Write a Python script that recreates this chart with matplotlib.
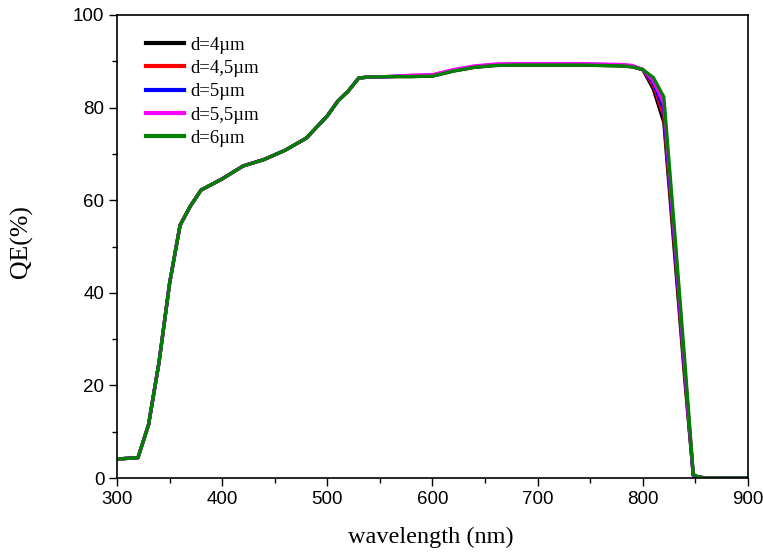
import numpy as np
import matplotlib.pyplot as plt

# wavelength grid (nm)
wl = [300, 320, 330, 340, 350, 360, 370, 380, 400, 420, 440, 460, 480, 500, 510, 520, 530,
      540, 560, 580, 600, 620, 640, 660, 680, 700, 720, 740, 760, 780, 790, 800, 810, 820,
      830, 840, 848, 852, 860, 880, 900]

# common part up to 800 nm
base = [4.1, 4.4, 11.5, 25.0, 42.0, 54.6, 58.8, 62.2, 64.6, 67.4, 68.8, 70.8, 73.4, 78.2,
        81.4, 83.6, 86.4, 86.6, 86.7, 86.7, 86.8, 87.9, 88.7, 89.1, 89.2, 89.2, 89.2, 89.2,
        89.1, 89.0, 88.8, 88.2]

tail_4 = [84.0, 76.8, 49.0, 21.0, 0.5, 0.2, 0.0, 0.0, 0.0]
tail_45 = [84.8, 78.2, 50.5, 22.0, 0.6, 0.2, 0.0, 0.0, 0.0]
tail_5 = [85.3, 79.5, 51.5, 22.8, 0.6, 0.3, 0.0, 0.0, 0.0]
tail_55 = [85.8, 80.8, 52.5, 23.5, 0.7, 0.3, 0.0, 0.0, 0.0]
tail_6 = [86.5, 82.3, 54.0, 25.0, 0.8, 0.3, 0.0, 0.0, 0.0]

labels = ["d=4µm", "d=4,5µm", "d=5µm", "d=5,5µm", "d=6µm"]
tails = [tail_4, tail_45, tail_5, tail_55, tail_6]
colors = ["black", "red", "blue", "magenta", "green"]
offsets = [0.0, 0.1, 0.2, 0.3, 0.0]

fig = plt.figure(figsize=(7.63, 5.55), dpi=100)
ax = fig.add_axes([0.1533, 0.1387, 0.827, 0.8343])

for lab, tail, c, off in zip(labels, tails, colors, offsets):
    y = np.array(base + tail)
    y[19:31] += off  # plateau differs slightly between thicknesses
    ax.plot(wl, y, color=c, lw=2.4, label=lab)

ax.set_xlim(300, 900)
ax.set_ylim(0, 100)
ax.set_xticks(np.arange(300, 901, 100))
ax.set_xticks(np.arange(350, 900, 100), minor=True)
ax.set_yticks(np.arange(0, 101, 20))
ax.set_yticks(np.arange(10, 100, 20), minor=True)
ax.tick_params(which="major", direction="out", length=6, width=1,
               labelsize=13.5, pad=3)
ax.tick_params(which="minor", direction="out", length=3.5, width=1)
for lb in ax.get_xticklabels() + ax.get_yticklabels():
    lb.set_family("Liberation Sans")
for s in ax.spines.values():
    s.set_linewidth(1.2)

ax.set_xlabel("wavelength (nm)", family="Liberation Serif", fontsize=17.5)
ax.set_ylabel("QE(%)", family="Liberation Serif", fontsize=18.5)
ax.xaxis.set_label_coords(0.497, -0.106)
ax.yaxis.set_label_coords(-0.133, 0.51)

leg = ax.legend(loc="upper left", frameon=False, handlelength=2.0, handletextpad=0.35,
                labelspacing=0.33, bbox_to_anchor=(0.02, 0.99),
                prop={"family": "Liberation Serif", "size": 13.5})
for ln in leg.get_lines():
    ln.set_linewidth(3)

fig.savefig("out.png", dpi=100)
